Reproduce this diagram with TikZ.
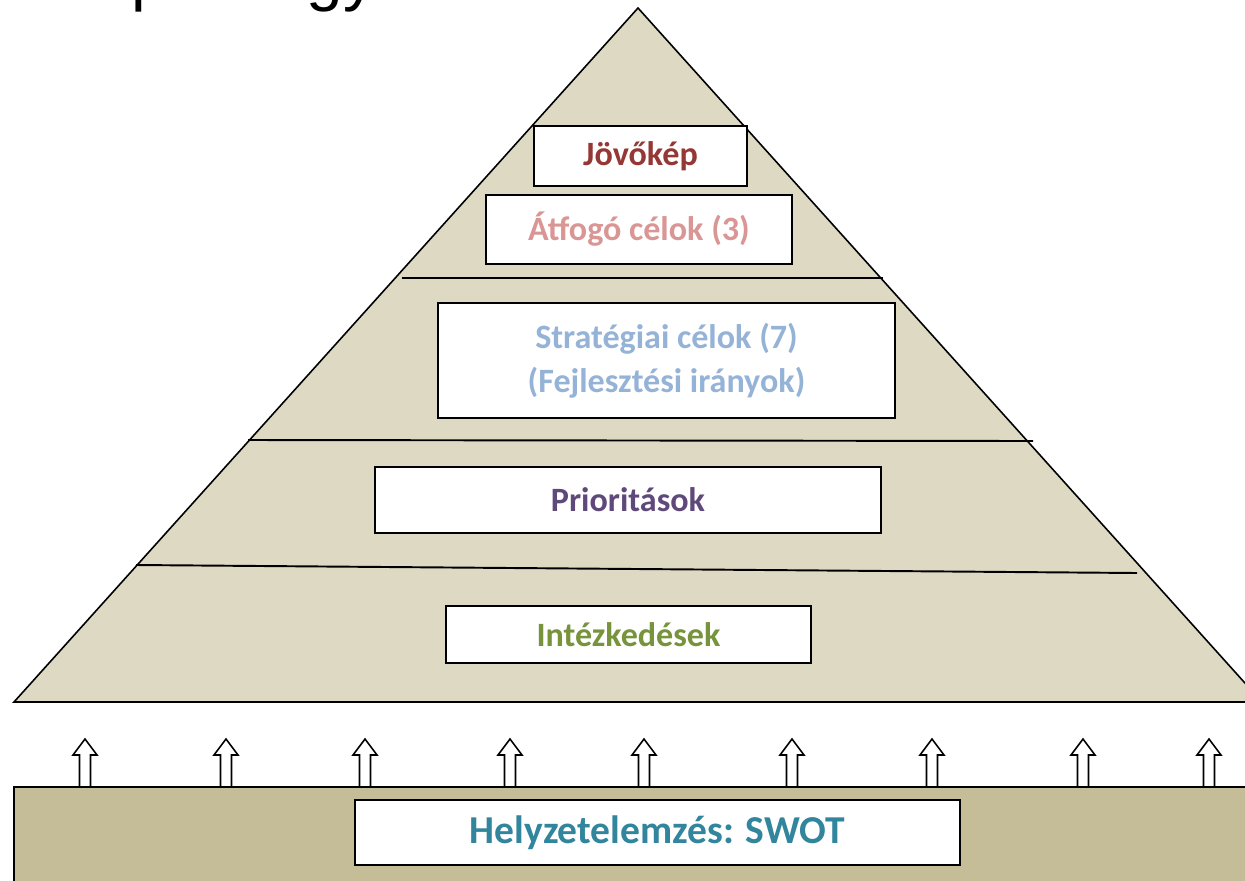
\documentclass[tikz,border=0pt]{standalone}
\usepackage{fontspec}
\setmainfont{Carlito}
\newfontfamily\titlefont{Liberation Sans}
\definecolor{pyrfill}{HTML}{DDD9C3}
\definecolor{basefill}{HTML}{C4BD97}
\definecolor{cjov}{HTML}{953735}
\definecolor{catf}{HTML}{D99694}
\definecolor{cstrat}{HTML}{95B3D7}
\definecolor{cprio}{HTML}{5F497A}
\definecolor{cintez}{HTML}{77933C}
\definecolor{cswot}{HTML}{31859C}
\tikzset{
  levelbox/.style={draw=black, fill=white, line width=1.2pt, inner sep=0pt, align=center,
    font=\bfseries\fontsize{19.4}{25}\selectfont},
  divider/.style={line width=1.1pt},
  uparrow/.style={draw=black, fill=white, line width=0.9pt},
}
\begin{document}
\begin{tikzpicture}[x=0.02cm,y=-0.02cm]
\clip (0,0) rectangle (1245,880);
\fill[white] (0,0) rectangle (1245,880);
% cut-off title
\node[anchor=base west, inner sep=0pt, font=\titlefont\fontsize{37.4}{40}\selectfont] (title) at (-55,-2) {Koncepció egy};
% pyramid
\coordinate (apex) at (638,8);
\coordinate (pr) at (1262,702);
\coordinate (pl) at (14,702);
\filldraw[fill=pyrfill, line width=0.9pt] (apex) -- (pr) -- (pl) -- cycle;
% dividers
\coordinate (d1l) at (402,278); \coordinate (d1r) at (883,278);
\coordinate (d2l) at (248,440); \coordinate (d2r) at (1033,441);
\coordinate (d3l) at (136,565); \coordinate (d3r) at (1137,573);
\draw[divider] (d1l) -- (d1r);
\draw[divider] (d2l) -- (d2r);
\draw[divider] (d3l) -- (d3r);
% arrows
\foreach \x in {85,226,365,510,644,792,932,1083,1209}{
  \draw[uparrow] (\x-5.5,788) -- (\x-5.5,755) -- (\x-12,755) -- (\x,739) -- (\x+12,755) -- (\x+5.5,755) -- (\x+5.5,788);
}
% base
\filldraw[fill=basefill, line width=1.2pt] (14,787) rectangle (1262,900);
% boxes
\node[levelbox, minimum width=4.26cm, minimum height=1.2cm, text=cjov] (jov) at (640.5,156) {\raisebox{-2pt}{Jövőkép}};
\node[levelbox, minimum width=6.12cm, minimum height=1.38cm, text=catf] (atf) at (639,229.5) {Átfogó célok (3)};
\node[levelbox, minimum width=9.14cm, minimum height=2.3cm, text=cstrat] (strat) at (666.5,360.5) {Stratégiai célok (7)\\(Fejlesztési irányok)};
\node[levelbox, minimum width=10.12cm, minimum height=1.32cm, text=cprio] (prio) at (628,500) {Prioritások};
\node[levelbox, minimum width=7.3cm, minimum height=1.14cm, text=cintez] (intez) at (628.5,634.5) {\raisebox{-1pt}{Intézkedések}};
\node[levelbox, minimum width=12.1cm, minimum height=1.3cm, text=cswot, font=\bfseries\fontsize{22.5}{27}\selectfont] (swot) at (657.5,832.5) {\raisebox{-1.5pt}{Helyzetelemzés: SWOT}};
\end{tikzpicture}
\end{document}
